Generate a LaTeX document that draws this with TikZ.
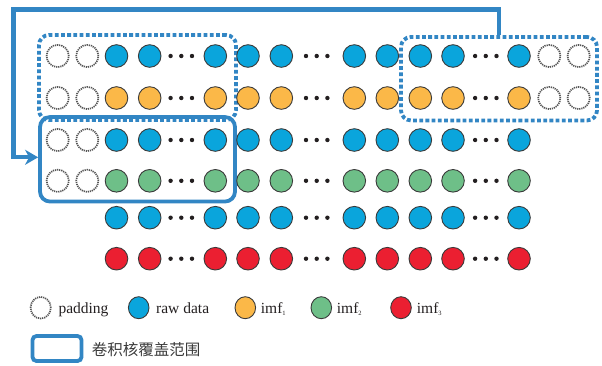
\documentclass[tikz,border=0pt]{standalone}
\usepackage{fontspec}
\setmainfont{Liberation Serif}
\newfontfamily\cjk{Noto Sans CJK SC}
\usetikzlibrary{arrows.meta,shapes.geometric}

\definecolor{cblue}{RGB}{10,165,220}
\definecolor{corange}{RGB}{251,184,72}
\definecolor{cgreen}{RGB}{110,191,136}
\definecolor{cred}{RGB}{235,31,49}
\definecolor{kblue}{RGB}{50,134,196}
\definecolor{rim}{RGB}{58,58,58}
\definecolor{padgray}{RGB}{85,85,85}
\definecolor{ink}{RGB}{35,31,32}

\tikzset{
  datum/.style={circle,draw=rim,line width=0.9pt,minimum size=22.6pt,inner sep=0pt},
  padcirc/.style={circle,draw=padgray,line width=1.7pt,dash pattern=on 1.2pt off 0.9pt,
                  minimum size=22.2pt,inner sep=0pt},
  keydatum/.style={ellipse,draw=rim,line width=0.9pt,minimum width=20.6pt,minimum height=22pt,inner sep=0pt},
  keypad/.style={ellipse,draw=padgray,line width=1.7pt,dash pattern=on 1.2pt off 0.9pt,
                 minimum width=20.2pt,minimum height=21.6pt,inner sep=0pt},
  kerndot/.style={rectangle,draw=kblue,line width=3.8pt,dash pattern=on 3.8pt off 2.4pt,
                  rounded corners=10pt,inner sep=0pt},
  kernsolid/.style={rectangle,draw=kblue,line width=3.8pt,rounded corners=10pt,inner sep=0pt},
  kline/.style={draw=kblue,line width=4.2pt},
  keytext/.style={anchor=base west,inner sep=0pt,text=ink,font=\fontsize{15.5}{18}\selectfont},
}

\newcommand{\subidx}[1]{\raisebox{-2.5pt}{\fontsize{6.5}{7}\selectfont #1}}

\begin{document}
\begin{tikzpicture}[x=1pt,y=-1pt]
\useasboundingbox (0,0) rectangle (602,365);

% convolution kernel windows
\node[kerndot,minimum width=197pt,minimum height=85pt] (kernL) at (137.5,77.5) {};
\node[kerndot,minimum width=196pt,minimum height=83.5pt] (kernR) at (499,78.7) {};
\node[kernsolid,minimum width=195pt,minimum height=84.5pt] (kernS) at (137.5,159.3) {};

% sequences: row / y / colour / padding (0 none, 1 left, 2 both sides)
\foreach \r/\y/\col/\pad in {1/56/cblue/2, 2/98/corange/2, 3/140/cblue/1,
                              4/180.8/cgreen/1, 5/217.7/cblue/0, 6/258.7/cred/0}{
  \foreach \c/\x in {1/116.5,2/149.7,3/215.3,4/248,5/281.3,
                     6/354.3,7/387.3,8/420.3,9/453,10/519}{
    \node[datum,fill=\col] (d\r-\c) at (\x,\y) {};
  }
  \foreach \x in {181.3,316.7,485.8}{
    \foreach \dx in {-10.7,0,10.7}{
      \fill[ink] (\x+\dx,\y) circle (2.2pt);
    }
  }
  \ifnum\pad>0
    \node[padcirc] (pl\r-1) at (57.7,\y) {};
    \node[padcirc] (pl\r-2) at (87.3,\y) {};
  \fi
  \ifnum\pad>1
    \node[padcirc] (pr\r-1) at (549.3,\y) {};
    \node[padcirc] (pr\r-2) at (578.7,\y) {};
  \fi
}

% kernel moves from the right end back to the next pair of rows
\coordinate (bend) at (13.5,9.5);
\draw[kline,-{Stealth[length=13pt,width=15pt,inset=4pt]}]
  (kernR.north) |- (bend) |- ([yshift=2pt]kernS.west);

% legend
\node[keypad] (kpad) at (40.7,307.7) {};
\node[keytext] (tpad) at (58.3,313) {padding};
\node[keydatum,fill=cblue] (kraw) at (138.7,307.7) {};
\node[keytext] (traw) at (156,313) {raw data};
\node[keydatum,fill=corange] (kimf1) at (245.3,307.7) {};
\node[keytext] (timf1) at (260.7,313) {imf\subidx{1}};
\node[keydatum,fill=cgreen] (kimf2) at (321.3,307.7) {};
\node[keytext] (timf2) at (336.7,313) {imf\subidx{2}};
\node[keydatum,fill=cred] (kimf3) at (401,307.7) {};
\node[keytext] (timf3) at (416.7,313) {imf\subidx{3}};

\node[kernsolid,rounded corners=4pt,minimum width=49pt,minimum height=25pt] (kbox) at (57,348.5) {};
\node[anchor=west,inner sep=0pt,text=rim,font=\cjk\fontsize{15.5}{18}\selectfont] (tbox) at (91.7,349.3) {卷积核覆盖范围};
\end{tikzpicture}
\end{document}
